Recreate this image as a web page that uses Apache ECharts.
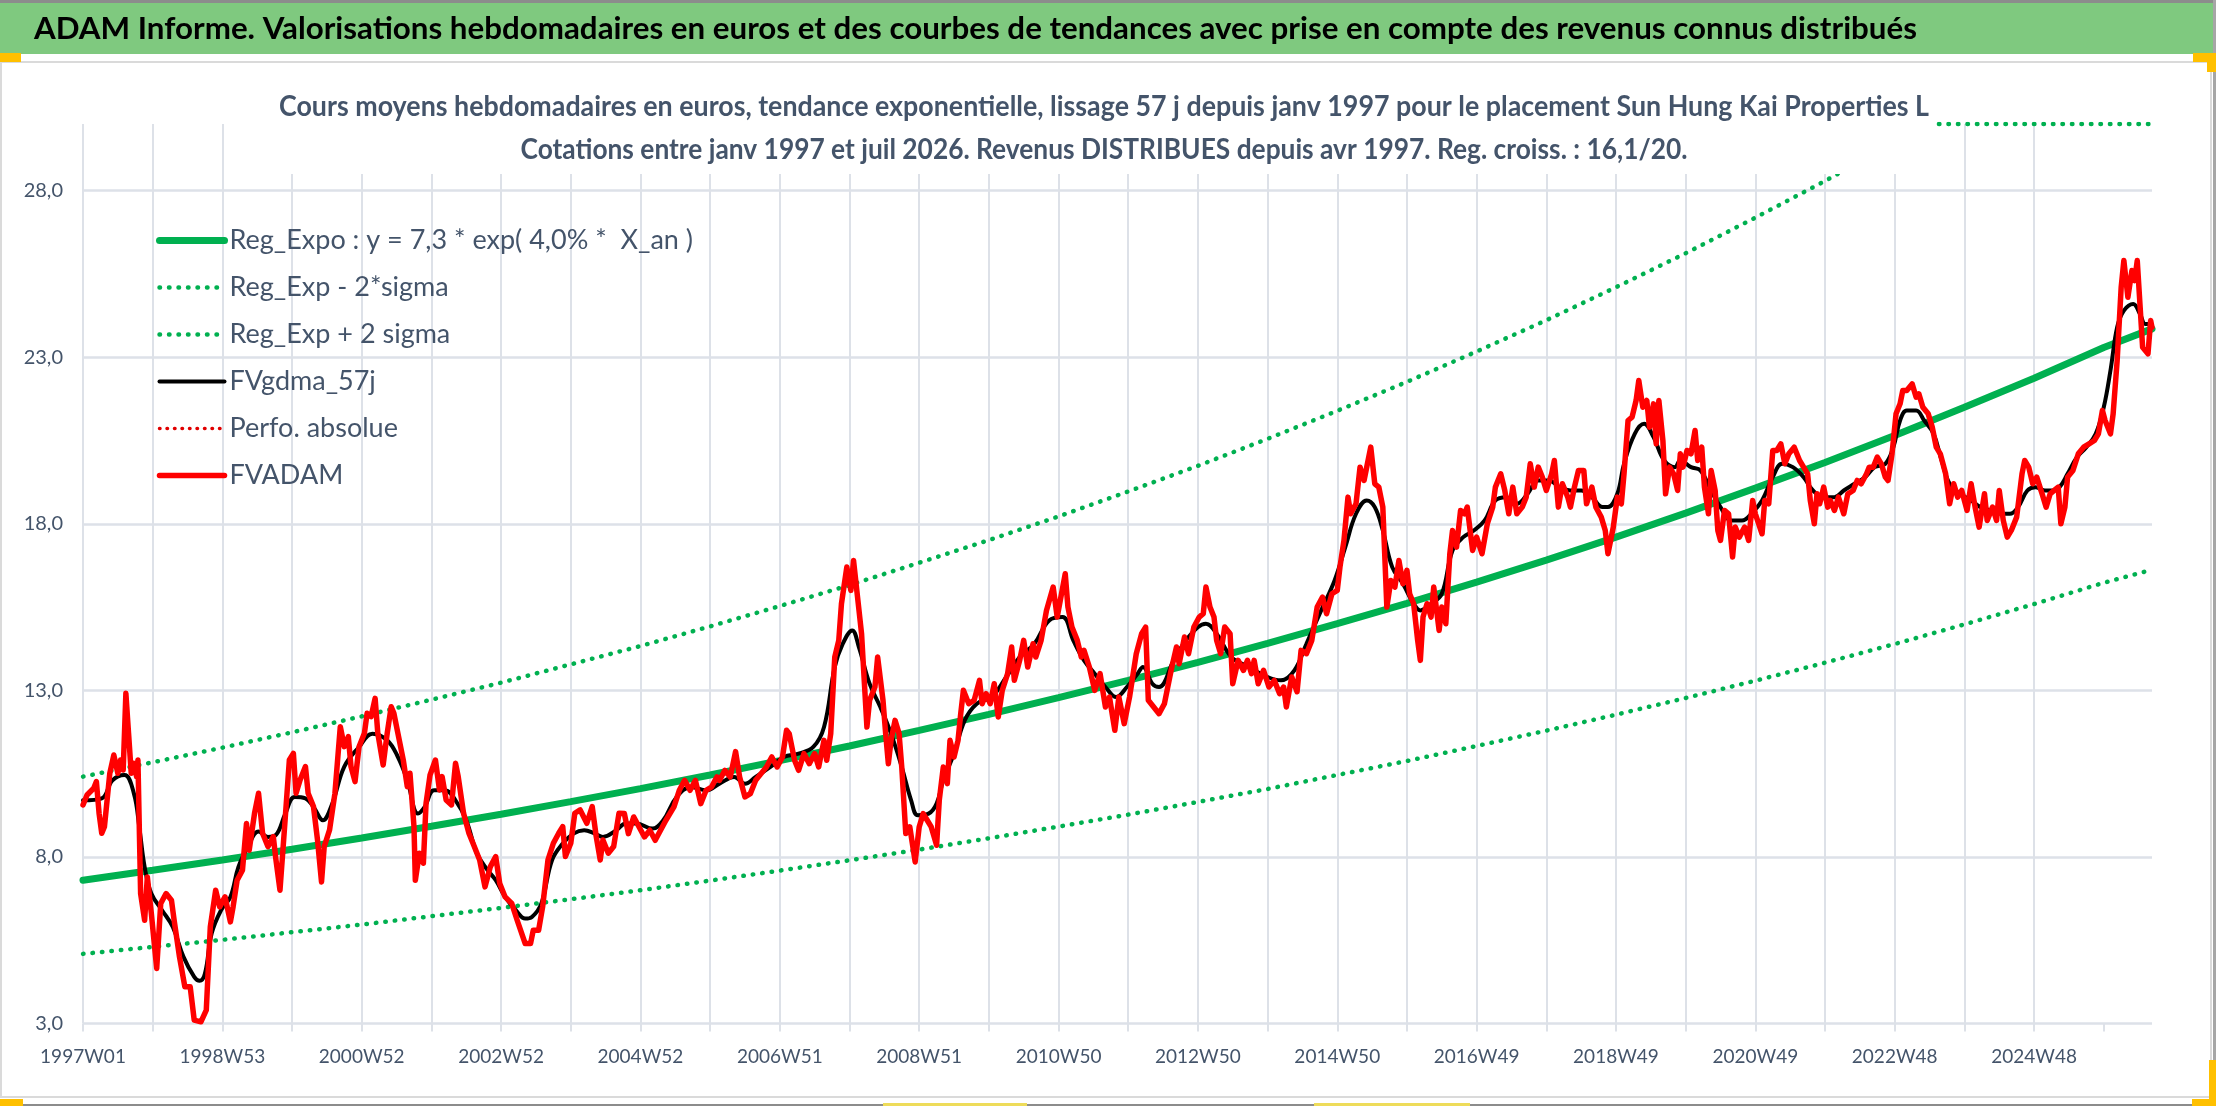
<!DOCTYPE html>
<html>
<head>
<meta charset="utf-8">
<script src="https://cdn.jsdelivr.net/npm/echarts@6/dist/echarts.min.js"></script>
<style>
html,body{margin:0;padding:0;background:#ffffff;}
#chart{width:2216px;height:1106px;}
</style>
</head>
<body>
<div id="chart"></div>
<script>
// ---------- texts ----------
const headerTitle = 'ADAM Informe. Valorisations hebdomadaires en euros et des courbes de tendances avec prise en compte des revenus connus distribués';
const subtitleLines = [
  'Cours moyens hebdomadaires en euros, tendance exponentielle, lissage 57 j depuis janv 1997 pour le placement Sun Hung Kai Properties L',
  'Cotations entre janv 1997 et juil 2026. Revenus DISTRIBUES depuis avr 1997. Reg. croiss. : 16,1/20.'
];
const legendNames = [
  'Reg_Expo : y = 7,3 * exp( 4,0% *  X_an )',
  'Reg_Exp - 2*sigma',
  'Reg_Exp + 2 sigma',
  'FVgdma_57j',
  'Perfo. absolue',
  'FVADAM'
];
// x tick labels, one every 104 weeks starting at week 0
const xTickLabels = ['1997W01','1998W53','2000W52','2002W52','2004W52','2006W51','2008W51','2010W50','2012W50','2014W50','2016W49','2018W49','2020W49','2022W48','2024W48'];
const xLastWeek = 1544;

// ---------- series values : [week index since 1997W01, value] ----------
const regExpo = [[0,7.30],[52,7.60],[104,7.91],[156,8.23],[208,8.57],[260,8.92],[312,9.28],[364,9.66],[416,10.05],[468,10.46],[520,10.89],[572,11.33],[624,11.80],[676,12.28],[728,12.78],[780,13.30],[832,13.84],[884,14.41],[936,15.00],[988,15.61],[1040,16.25],[1092,16.91],[1144,17.60],[1196,18.32],[1248,19.07],[1300,19.84],[1352,20.65],[1404,21.50],[1456,22.37],[1508,23.29],[1544,23.85]];

const regExpLow = [[0,5.09],[52,5.30],[104,5.51],[156,5.74],[208,5.97],[260,6.22],[312,6.47],[364,6.73],[416,7.00],[468,7.29],[520,7.59],[572,7.90],[624,8.22],[676,8.56],[728,8.91],[780,9.27],[832,9.65],[884,10.04],[936,10.46],[988,10.88],[1040,11.33],[1092,11.79],[1144,12.27],[1196,12.77],[1248,13.29],[1300,13.83],[1352,14.39],[1404,14.98],[1456,15.59],[1508,16.23],[1544,16.62]];

const regExpHigh = [[0,10.41],[52,10.84],[104,11.28],[156,11.74],[208,12.22],[260,12.72],[312,13.23],[364,13.78],[416,14.33],[468,14.92],[520,15.53],[572,16.16],[624,16.83],[676,17.51],[728,18.22],[780,18.97],[832,19.74],[884,20.55],[936,21.39],[988,22.26],[1040,23.17],[1092,24.11],[1144,25.10],[1196,26.12],[1248,27.19],[1300,28.29],[1352,29.45],[1381,30],[1404,30],[1456,30],[1508,30],[1544,30]];

const fvgdma57 = [[0,9.7],[14,9.76],[22,10.3],[31,10.46],[38,9.9],[42,8.9],[46,7.7],[51,6.9],[59,6.4],[67,5.9],[75,5.0],[83,4.4],[87,4.28],[91,4.5],[96,5.7],[103,6.4],[110,6.8],[116,7.7],[123,8.3],[131,8.76],[138,8.6],[144,8.66],[151,9.3],[158,9.8],[166,9.76],[172,9.5],[179,9.1],[186,9.6],[195,10.71],[206,11.3],[216,11.7],[227,11.5],[235,11.0],[242,10.3],[250,9.3],[255,9.5],[262,10.0],[270,10.0],[278,9.7],[286,9.1],[294,8.1],[302,7.6],[308,7.3],[315,6.8],[323,6.4],[330,6.15],[335,6.2],[342,6.6],[350,7.9],[358,8.4],[366,8.7],[374,8.8],[382,8.7],[388,8.6],[398,8.8],
[405,9.0],[413,9.0],[425,8.85],[433,9.1],[443,9.8],[454,10.1],[465,10.0],[475,10.2],[486,10.4],[494,10.2],[502,10.4],[513,10.7],[523,11.0],[534,11.1],[545,11.3],[553,11.9],[561,13.7],[567,14.4],[574,14.8],[579,14.3],[587,13.2],[595,12.5],[603,11.7],[611,10.7],[618,9.7],[623,9.25],[631,9.3],[637,9.6],[642,10.3],[650,11.1],[658,12.1],[667,12.6],[678,12.8],[689,13.4],[699,14.0],[710,14.4],[721,15.1],[731,15.2],[739,14.5],[747,13.9],[755,13.5],[763,13.1],[771,12.8],[779,13.1],[787,13.5],[791,13.7],[798,13.2],[803,13.1],
[814,13.9],[825,14.6],[838,15.0],[846,14.7],[857,14.0],[870,13.7],[884,13.4],[894,13.3],[904,13.6],[913,14.4],[924,15.4],[934,16.3],[942,17.3],[950,18.3],[958,18.7],[964,18.5],[970,17.8],[977,16.7],[985,16.2],[993,15.6],[998,15.4],[1006,15.6],[1014,15.9],[1022,17.2],[1030,17.6],[1038,17.8],[1046,18.1],[1054,18.7],[1062,18.8],[1070,18.6],[1078,18.9],[1086,19.3],[1094,19.3],[1102,19.1],[1110,19.0],[1118,19.0],[1126,18.8],[1134,18.5],[1138,18.5],[1145,18.9],[1150,19.8],[1158,20.7],[1165,21.0],[1172,20.6],[1180,19.9],[1188,19.7],
[1192,19.9],[1200,19.7],[1207,19.6],[1215,19.0],[1222,18.5],[1230,18.1],[1238,18.1],[1245,18.3],[1253,18.7],[1261,19.4],[1268,19.8],[1276,19.7],[1284,19.4],[1291,19.0],[1299,18.8],[1307,18.8],[1314,19.0],[1322,19.2],[1330,19.4],[1337,19.7],[1345,19.8],[1351,20.3],[1356,21.1],[1361,21.4],[1368,21.4],[1374,21.1],[1381,20.7],[1387,19.9],[1393,19.2],[1401,18.9],[1409,18.7],[1416,18.5],[1424,18.4],[1432,18.3],[1438,18.3],[1444,18.5],[1451,19.0],[1457,19.1],[1464,19.0],[1470,19.0],[1475,19.1],[1481,19.5],[1488,20.0],[1495,20.3],[1502,20.7],[1508,21.5],[1513,22.6],[1518,23.9],[1523,24.4],[1530,24.6],[1535,24.3],[1539,24.0],[1543,24.0]];

const perfoAbsolue = [];

const fvadam = [[0,9.56],[3,9.86],[8,10.06],[10,10.26],[12,9.31],[14,8.71],[16,8.91],[18,9.71],[20,10.51],[23,11.06],[26,10.51],[28,10.91],[30,10.61],[32,12.91],[34,11.71],[36,10.51],[38,10.81],[40,10.41],[41,10.91],[43,6.9],[46,6.1],[48,7.4],[51,6.3],[55,4.65],[58,6.6],[62,6.9],[66,6.7],[68,6.1],[72,5.0],[76,4.1],[80,4.1],[83,3.1],[88,3.05],[92,3.4],[95,5.9],[99,7.0],[102,6.5],[106,6.8],[110,6.05],[112,6.5],[115,7.3],[119,7.6],[122,9.0],[124,8.2],[128,9.31],[131,9.91],[134,8.71],[138,8.31],[142,8.61],[144,7.91],[147,7.0],[151,9.21],[154,10.91],[157,11.11],[159,9.91],[162,10.31],[166,10.71],[168,9.91],[172,9.51],[175,8.51],[178,7.25],[180,8.31],[184,8.81],[188,9.91],[192,11.91],[195,11.31],[198,11.61],[200,10.71],[203,10.26],[206,11.31],[210,11.71],[212,12.31],[215,12.21],[218,12.76],[220,11.71],[224,10.76],[227,11.71],[230,12.51],[232,12.31],[236,11.51],[239,10.91],[242,10.11],[244,10.51],[247,8.91],[248,7.3],[251,8.11],[254,7.81],[256,9.61],[259,10.46],[263,10.91],[266,10.01],[268,10.41],[271,9.71],[275,9.56],[278,10.81],[280,10.41],[284,9.31],[288,8.71],[292,8.31],[296,7.91],[300,7.1],[304,7.71],[308,8.01],[311,7.2],[315,6.8],[320,6.6],[324,6.1],[330,5.4],[334,5.4],[336,5.8],[340,5.8],[343,6.5],[347,7.91],[351,8.41],[355,8.71],[358,8.91],[360,8.01],[364,8.41],[367,9.31],[371,9.41],[376,9.01],[380,9.51],[383,8.61],[386,7.91],[388,8.51],[392,8.11],[396,8.31],[400,9.31],
[404,9.3],[407,8.7],[411,9.2],[415,8.9],[419,8.6],[423,8.8],[427,8.5],[431,8.8],[435,9.1],[441,9.5],[445,10.0],[449,10.3],[453,10.0],[457,10.3],[461,9.6],[465,10.0],[469,10.1],[473,10.4],[475,10.3],[479,10.6],[483,10.4],[487,11.16],[490,10.4],[494,9.8],[498,9.9],[502,10.3],[506,10.5],[510,10.7],[514,11.0],[518,10.7],[522,11.0],[525,11.8],[527,11.7],[531,10.9],[534,10.6],[538,11.1],[542,10.8],[546,11.1],[549,10.7],[553,11.5],[555,10.9],[558,11.7],[561,14.0],[564,14.5],[566,15.6],[570,16.7],[573,16.0],[575,16.9],[578,15.8],[581,14.7],[585,11.9],[587,12.7],[591,13.1],[593,14.0],[597,12.7],[599,11.7],[601,10.8],[603,11.5],[606,12.1],[609,11.7],[611,10.7],[614,8.7],[617,8.9],[621,7.85],[624,8.9],[627,9.3],[630,9.1],[633,8.9],[637,8.35],[639,9.7],[642,10.7],[645,10.2],[647,11.5],[650,11.0],[653,11.5],[655,12.3],[657,13.0],[661,12.6],[665,12.7],[669,13.3],[671,12.6],[674,12.9],[677,12.6],[680,13.2],[683,12.2],[686,13.0],[690,13.5],[693,14.3],[695,13.3],[699,13.9],[702,14.5],[705,13.7],[709,14.4],[711,14.0],[715,14.5],[719,15.4],[724,16.1],[727,15.2],[733,16.5],[735,15.5],[738,14.9],[742,14.5],[745,14.0],[747,14.2],[751,13.7],[755,13.0],[759,13.5],[763,12.5],[766,12.8],[770,11.8],[773,12.8],[777,12.0],[781,12.8],[786,14.1],[790,14.7],[793,14.9],[795,12.7],[799,12.5],[803,12.3],
[807,12.6],[812,13.6],[816,14.3],[818,13.8],[822,14.6],[825,14.1],[829,14.9],[833,15.2],[836,15.3],[838,16.1],[841,15.5],[844,15.2],[846,14.5],[849,14.1],[852,14.9],[856,14.7],[858,13.2],[862,13.9],[866,13.6],[869,13.9],[872,13.5],[874,13.9],[877,13.2],[881,13.6],[885,13.1],[889,13.3],[893,12.9],[896,13.1],[898,12.5],[902,13.4],[906,12.96],[909,14.2],[913,14.1],[917,14.5],[921,15.5],[925,15.8],[928,15.3],[932,15.9],[936,16.0],[938,16.7],[941,17.5],[944,18.8],[946,18.3],[950,18.6],[953,19.7],[956,19.3],[958,19.7],[961,20.3],[964,19.2],[967,19.1],[970,18.5],[973,15.5],[976,16.3],[979,16.1],[982,16.9],[985,16.2],[988,16.6],[990,15.9],[993,15.6],[996,14.5],[998,13.9],[1000,15.2],[1003,15.6],[1006,15.2],[1008,16.1],[1012,14.8],[1014,15.5],[1017,15.0],[1020,17.1],[1022,17.8],[1025,17.3],[1028,18.4],[1031,18.3],[1033,18.5],[1037,17.2],[1040,17.6],[1044,17.1],[1048,18.0],[1052,18.5],[1054,19.1],[1058,19.5],[1061,19.0],[1064,18.3],[1067,19.1],[1070,18.3],[1074,18.5],[1077,18.8],[1080,19.8],[1083,19.1],[1086,19.7],[1089,19.4],[1092,19.0],[1096,19.5],[1098,19.9],[1101,18.5],[1104,19.2],[1108,18.8],[1110,18.5],[1113,19.1],[1116,19.6],[1120,19.6],[1122,18.6],[1126,19.1],[1129,18.5],[1133,18.2],[1136,17.8],[1138,17.1],[1142,17.9],[1145,18.8],[1148,18.6],[1150,19.5],[1153,21.1],[1156,21.2],[1159,21.7],[1161,22.3],[1164,21.5],[1167,21.7],[1169,20.9],[1172,21.6],[1174,20.4],[1176,21.7],[1179,20.5],[1181,18.9],[1184,19.7],[1187,19.5],[1190,19.0],
[1192,20.1],[1194,19.7],[1197,20.2],[1200,20.1],[1203,20.8],[1205,19.9],[1208,20.3],[1210,19.1],[1213,18.3],[1215,19.6],[1218,19.0],[1220,17.8],[1222,17.5],[1225,18.4],[1228,18.3],[1231,17.0],[1233,17.9],[1236,17.6],[1240,17.9],[1243,17.5],[1246,18.7],[1248,18.3],[1253,17.7],[1255,18.7],[1258,18.6],[1261,20.2],[1264,20.2],[1267,20.4],[1270,19.8],[1273,20.1],[1277,20.3],[1281,19.9],[1284,19.7],[1287,19.5],[1289,18.7],[1292,18.0],[1294,18.9],[1296,18.6],[1299,19.1],[1302,18.5],[1304,18.7],[1307,18.4],[1310,18.8],[1314,18.3],[1317,18.9],[1321,19.0],[1324,19.3],[1327,19.2],[1331,19.5],[1333,19.7],[1336,19.7],[1339,20.0],[1342,19.8],[1345,19.4],[1347,19.3],[1350,20.1],[1353,21.3],[1356,21.6],[1358,22.0],[1361,22.0],[1365,22.2],[1368,21.8],[1370,21.9],[1373,21.5],[1377,21.3],[1380,20.9],[1383,20.3],[1386,20.1],[1390,19.5],[1393,18.6],[1396,19.2],[1399,18.8],[1402,19.0],[1406,18.4],[1409,19.2],[1412,18.5],[1415,17.9],[1419,18.9],[1421,18.1],[1425,18.5],[1428,18.1],[1430,19.0],[1433,18.1],[1436,17.6],[1439,17.8],[1443,18.2],[1447,19.5],[1449,19.9],[1452,19.7],[1455,19.2],[1458,19.4],[1462,18.9],[1465,18.5],[1468,18.9],[1471,19.0],[1474,19.1],[1476,18.0],[1479,18.5],[1481,19.4],[1485,19.6],[1489,20.1],[1493,20.3],[1497,20.4],[1501,20.5],[1504,20.7],[1507,21.4],[1509,21.1],[1513,20.7],[1515,21.3],[1518,22.9],[1521,25.1],[1523,25.9],[1526,24.8],[1529,25.6],[1531,25.3],[1533,25.9],[1535,24.6],[1537,23.3],[1539,23.2],[1541,23.1],[1543,24.1],[1544,23.9]];

// ---------- layout / styles ----------
const GREEN = '#00B050';
const GRID = '#DDE1E8';
const SLATE = '#44546A';
const FONT = 'Lato, "Noto Sans", sans-serif';

const mctx = document.createElement('canvas').getContext('2d');
function fitScale(text, font, targetWidth) {
  mctx.font = font;
  return targetWidth / mctx.measureText(text).width;
}
const headerFont = 'bold 30px Lato';
const subFont = 'bold 28px Lato';
const headerScale = fitScale(headerTitle, headerFont, 1883);
const sub1Scale = fitScale(subtitleLines[0], subFont, 1650);
const sub2Scale = fitScale(subtitleLines[1], subFont, 1167);

const gridWeeks = [];
for (let w = 0; w <= xLastWeek; w += 52) gridWeeks.push(w);
const labelWeeks = xTickLabels.map((_, i) => i * 104);

function rect(x, y, w, h, fill) {
  return { type: 'rect', z: 100, silent: true, shape: { x: x, y: y, width: w, height: h }, style: { fill: fill } };
}

const chart = echarts.init(document.getElementById('chart'), null, { renderer: 'canvas' });

const option = {
  animation: false,
  backgroundColor: '#ffffff',
  textStyle: { fontFamily: FONT },
  grid: { left: 83, right: 64, top: 124, bottom: 82.5, outerBoundsMode: 'none' },
  legend: {
    orient: 'vertical',
    left: 151,
    top: 220,
    itemWidth: 65,
    itemHeight: 14,
    itemGap: 16,
    selectedMode: false,
    data: legendNames,
    itemStyle: { opacity: 0, borderWidth: 0 },
    lineStyle: { width: 'inherit', type: 'inherit', cap: 'inherit', color: 'inherit' },
    textStyle: { fontFamily: FONT, fontSize: 27, lineHeight: 31, color: SLATE }
  },
  xAxis: {
    type: 'value',
    min: 0,
    max: xLastWeek,
    interval: 52,
    axisLine: { show: false },
    axisTick: { show: true, length: 8, customValues: gridWeeks, lineStyle: { color: GRID, width: 2 } },
    axisLabel: {
      customValues: labelWeeks,
      formatter: function (v) { return xTickLabels[Math.round(v / 104)] || ''; },
      fontFamily: FONT, fontSize: 19, color: SLATE, margin: 24
    },
    splitLine: { show: true, showMaxLine: false, lineStyle: { color: GRID, width: 2 } }
  },
  yAxis: {
    type: 'value',
    min: 3,
    max: 30,
    interval: 5,
    axisLine: { show: false },
    axisTick: { show: false },
    axisLabel: {
      formatter: function (v) { return v.toFixed(1).replace('.', ','); },
      showMaxLabel: false,
      fontFamily: FONT, fontSize: 20, color: SLATE, margin: 20
    },
    splitLine: { show: true, showMaxLine: false, lineStyle: { color: GRID, width: 2.5 } }
  },
  series: [
    { name: legendNames[0], type: 'line', data: regExpo, symbol: 'none', itemStyle: { color: GREEN },
      lineStyle: { color: GREEN, width: 7, cap: 'round' } },
    { name: legendNames[1], type: 'line', data: regExpLow, symbol: 'none', itemStyle: { color: GREEN },
      lineStyle: { color: GREEN, width: 4.5, type: [0.5, 9], cap: 'round' } },
    { name: legendNames[2], type: 'line', data: regExpHigh, symbol: 'none', itemStyle: { color: GREEN },
      lineStyle: { color: GREEN, width: 4.5, type: [0.5, 9], cap: 'round' } },
    { name: legendNames[3], type: 'line', data: fvgdma57, symbol: 'none', smooth: 0.4, itemStyle: { color: '#000000' },
      lineStyle: { color: '#000000', width: 4, cap: 'round' } },
    { name: legendNames[4], type: 'line', data: perfoAbsolue, symbol: 'none', itemStyle: { color: '#E00000' },
      lineStyle: { color: '#E00000', width: 3.5, type: [0.5, 7], cap: 'round' } },
    { name: legendNames[5], type: 'line', data: fvadam, symbol: 'none', itemStyle: { color: '#FF0000' },
      lineStyle: { color: '#FF0000', width: 5.5, join: 'round', cap: 'round' } }
  ],
  graphic: [
    rect(0, 0, 2216, 3, '#8C8C8C'),
    rect(0, 3, 2216, 51, '#7FC97F'),
    { type: 'text', z: 101, silent: true, x: 34, y: 29, scaleX: headerScale,
      style: { text: headerTitle, font: headerFont, fill: '#000000', align: 'left', verticalAlign: 'middle', textAlign: 'left', textVerticalAlign: 'middle' } },
    { type: 'rect', z: 1, silent: true, shape: { x: 1, y: 62, width: 2210, height: 1035 },
      style: { fill: null, stroke: '#DADADA', lineWidth: 2 } },
    rect(272, 80, 1664, 94, '#ffffff'),
    { type: 'text', z: 101, silent: true, x: 1104, y: 107, scaleX: sub1Scale,
      style: { text: subtitleLines[0], font: subFont, fill: SLATE, align: 'center', verticalAlign: 'middle', textAlign: 'center', textVerticalAlign: 'middle' } },
    { type: 'text', z: 101, silent: true, x: 1104, y: 150, scaleX: sub2Scale,
      style: { text: subtitleLines[1], font: subFont, fill: SLATE, align: 'center', verticalAlign: 'middle', textAlign: 'center', textVerticalAlign: 'middle' } },
    rect(0, 1104, 2216, 2, '#8C8C8C'),
    rect(2213, 0, 3, 1106, '#A6A6A6'),
    rect(0, 53, 21, 9, '#FFC000'),
    rect(2193, 53, 23, 9, '#FFC000'),
    rect(2207, 53, 9, 19, '#FFC000'),
    rect(0, 1099, 23, 7, '#FFC000'),
    rect(2192, 1099, 24, 7, '#FFC000'),
    rect(2209, 1060, 7, 46, '#FFC000'),
    rect(883, 1103, 144, 3, '#EEDC5A'),
    rect(1314, 1103, 156, 3, '#EEDC5A')
  ]
};

chart.setOption(option);
</script>
</body>
</html>
